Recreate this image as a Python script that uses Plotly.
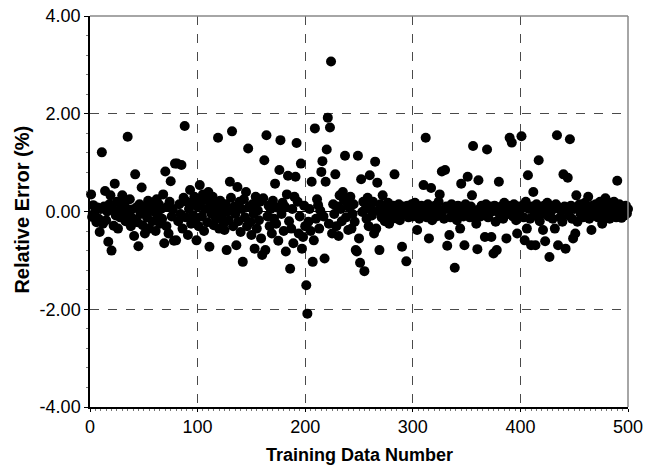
import plotly.graph_objects as go

# Relative error of each training sample (%), sample numbers 1..500
training_number = list(range(1, 501))
relative_error = [
    0.35, -0.11, 0.13, -0.05, 0.02, -0.22, 0.08, -0.15, -0.42, 0.05,
    1.21, -0.25, 0.10, 0.42, -0.18, 0.00, -0.62, 0.15, 0.33, -0.80,
    0.05, -0.29, 0.57, -0.08, 0.20, -0.35, 0.02, -0.12, 0.12, 0.33,
    -0.05, 0.18, -0.20, 0.06, 1.53, -0.10, 0.25, -0.30, 0.04, -0.15,
    -0.50, 0.76, 0.08, -0.22, -0.71, 0.15, -0.05, 0.49, -0.28, 0.10,
    -0.45, 0.02, -0.12, 0.22, -0.35, 0.05, 0.18, -0.20, 0.00, 0.12,
    -0.40, 0.25, -0.08, 0.15, -0.25, 0.05, -0.15, 0.35, -0.65, 0.82,
    -0.30, 0.10, -0.45, 0.20, 0.62, -0.10, 0.05, -0.60, 0.98, -0.59,
    0.98, -0.20, 0.15, -0.05, 0.95, -0.35, 0.28, 1.75, -0.12, 0.20,
    -0.48, 0.05, 0.44, -0.25, 0.15, -0.08, 0.30, -0.18, -0.59, 0.10,
    -0.30, 0.54, 0.20, -0.10, 0.35, -0.40, 0.05, 0.25, -0.22, 0.40,
    -0.72, 0.12, -0.05, 0.30, -0.28, 0.18, -0.15, 0.02, 1.51, -0.35,
    0.22, -0.10, 0.08, -0.25, -0.38, 0.15, -0.79, 0.00, -0.18, 0.61,
    0.28, 1.64, -0.30, 0.10, -0.05, -0.69, 0.50, -0.20, 0.20, -0.42,
    0.05, -1.03, 0.25, -0.12, 0.40, -0.30, 1.29, 0.10, -0.22, -0.48,
    0.15, -0.05, -0.76, 0.30, -0.35, 0.02, -0.18, 0.20, -0.55, -0.89,
    0.27, 1.05, -0.79, 1.56, -0.10, 0.12, -0.30, 0.05, -0.45, 0.22,
    -0.15, 0.57, -0.25, 0.08, -0.60, 0.85, 1.46, -0.05, 0.18, -0.40,
    0.10, -0.82, 0.35, 0.73, -0.20, -1.17, -0.35, 0.05, -0.65, 0.30,
    0.71, 1.40, 0.20, -0.45, -0.10, 0.98, -0.76, -0.52, 0.12, -0.30,
    -1.51, -2.09, -0.21, 0.05, -0.40, 0.61, -1.03, -0.59, 1.70, -0.15,
    0.25, 0.13, -0.35, 0.02, 0.81, 1.03, -0.10, -0.96, 0.61, 1.27,
    1.92, -0.25, 1.72, 3.07, -0.45, 0.15, -0.05, 0.76, -0.30, 0.10,
    -0.50, 0.33, 0.05, -0.20, 0.40, 0.23, 1.14, -0.12, 0.18, -0.38,
    0.08, 0.30, -0.35, -0.05, 0.15, -0.21, -0.79, -0.82, 1.14, -0.55,
    -1.05, 0.66, -0.01, 0.20, -1.22, 0.05, -0.15, 0.28, -0.30, 0.74,
    0.10, -0.08, 0.20, -0.45, 1.02, -0.35, 0.59, 0.02, -0.79, 0.15,
    -0.12, 0.33, 0.05, -0.20, 0.10, -0.05, 0.18, -0.25, 0.00, 0.08,
    -0.10, 0.12, 0.76, -0.14, 0.05, -0.08, 0.15, -0.18, 0.02, -0.72,
    0.10, -0.05, 0.08, -1.02, 0.12, -0.12, 0.05, -0.02, 0.15, -0.10,
    0.05, 0.18, -0.08, -0.38, 0.10, -0.15, 0.02, 0.12, -0.05, 0.54,
    0.08, 1.51, -0.12, 0.15, -0.55, 0.00, 0.48, -0.18, 0.10, -0.05,
    0.12, -0.10, 0.05, 0.20, 0.35, -0.08, 0.82, 0.02, -0.15, 0.85,
    0.10, -0.70, 0.05, -0.48, -0.12, 0.15, -0.05, 0.08, -1.15, 0.02,
    -0.18, 0.12, 0.00, -0.35, 0.57, 0.05, -0.10, -0.69, 0.15, -0.05,
    0.71, 0.08, -0.12, 0.10, 0.33, 1.34, 0.02, -0.08, -0.25, -0.77,
    0.64, 0.05, -0.10, 0.12, -0.02, 0.08, -0.52, 0.15, 1.27, -0.12,
    0.05, 0.10, -0.52, 0.00, -0.86, 0.12, -0.21, -0.79, 0.05, 0.61,
    -0.08, 0.10, 0.02, -0.15, 0.18, 0.05, -0.55, -0.05, 0.12, 1.51,
    0.08, 1.41, -0.10, 0.15, 0.02, -0.18, -0.45, 0.10, -0.05, 0.05,
    1.54, 0.12, -0.12, -0.59, 0.20, -0.35, 0.74, 0.05, -0.15, -0.69,
    0.10, 0.40, -0.08, -0.69, 0.15, 0.02, 1.05, -0.20, 0.08, -0.05,
    -0.38, 0.12, -0.61, 0.05, 0.18, -0.10, -0.93, 0.00, 0.10, -0.15,
    0.05, -0.35, 0.15, 1.56, -0.69, 0.08, -0.12, 0.02, -0.21, 0.76,
    0.10, -0.76, 0.05, 0.69, -0.08, 1.48, 0.12, -0.15, -0.55, 0.05,
    -0.45, 0.33, -0.21, 0.08, 0.15, -0.05, 0.10, -0.12, 0.02, 0.18,
    -0.10, 0.05, 0.30, -0.15, 0.08, -0.38, 0.12, 0.00, -0.08, 0.15,
    0.05, -0.12, 0.10, 0.20, -0.05, -0.25, 0.08, 0.12, 0.27, -0.10,
    0.15, 0.02, -0.15, 0.18, 0.05, -0.08, 0.20, 0.10, -0.12, 0.63,
    0.05, 0.15, -0.05, -0.13, 0.10, 0.02, -0.08, 0.12, -0.04, 0.05,
]

x_ticks = [0, 100, 200, 300, 400, 500]
y_ticks = [-4, -2, 0, 2, 4]
y_tick_labels = ["-4.00", "-2.00", "0.00", "2.00", "4.00"]

FONT = "Liberation Sans, Arial, sans-serif"
GRID = "#4a4a4a"

fig = go.Figure(
    go.Scatter(
        x=training_number,
        y=relative_error,
        mode="markers",
        marker=dict(color="black", size=10, line=dict(width=0)),
        cliponaxis=False,
        showlegend=False,
    )
)

fig.update_xaxes(
    range=[0, 500],
    tickvals=x_ticks,
    ticks="outside",
    ticklen=3,
    tickcolor="black",
    showline=True,
    linecolor="black",
    linewidth=1.5,
    mirror=False,
    showgrid=True,
    gridcolor=GRID,
    griddash="dash",
    gridwidth=1,
    zeroline=False,
    automargin=False,
    tickfont=dict(family=FONT, size=18, color="black"),
    minor=dict(dtick=5, ticks="outside", ticklen=2, tickcolor="#777777", showgrid=False),
)

fig.update_yaxes(
    range=[-4, 4],
    tickvals=y_ticks,
    ticktext=y_tick_labels,
    ticks="outside",
    ticklen=4,
    tickcolor="black",
    showline=True,
    linecolor="black",
    linewidth=1.5,
    showgrid=True,
    gridcolor=GRID,
    griddash="dash",
    gridwidth=1,
    zeroline=True,
    zerolinecolor="black",
    zerolinewidth=1,
    automargin=False,
    tickfont=dict(family=FONT, size=18, color="black"),
    minor=dict(dtick=0.4, ticks="outside", ticklen=2, tickcolor="#777777", showgrid=False),
)

# grey frame on the top and right edges of the plotting area
fig.add_shape(type="line", xref="paper", yref="paper", x0=0, x1=1, y0=1, y1=1,
              line=dict(color="#888888", width=1.5))
fig.add_shape(type="line", xref="paper", yref="paper", x0=1, x1=1, y0=0, y1=1,
              line=dict(color="#888888", width=1.5))

fig.add_annotation(
    text="<b>Training Data Number</b>", xref="paper", yref="paper",
    x=0.5, y=-0.123, xanchor="center", yanchor="middle", showarrow=False,
    font=dict(family=FONT, size=18, color="black"),
)
fig.add_annotation(
    text="<b>Relative Error (%)</b>", xref="paper", yref="paper",
    x=-0.127, y=0.504, xanchor="center", yanchor="middle", textangle=-90,
    showarrow=False,
    font=dict(family=FONT, size=20, color="black"),
)

fig.update_layout(
    width=645,
    height=469,
    margin=dict(l=90, r=17, t=16, b=62, autoexpand=False),
    paper_bgcolor="white",
    plot_bgcolor="white",
)

fig.write_html("out.html")
